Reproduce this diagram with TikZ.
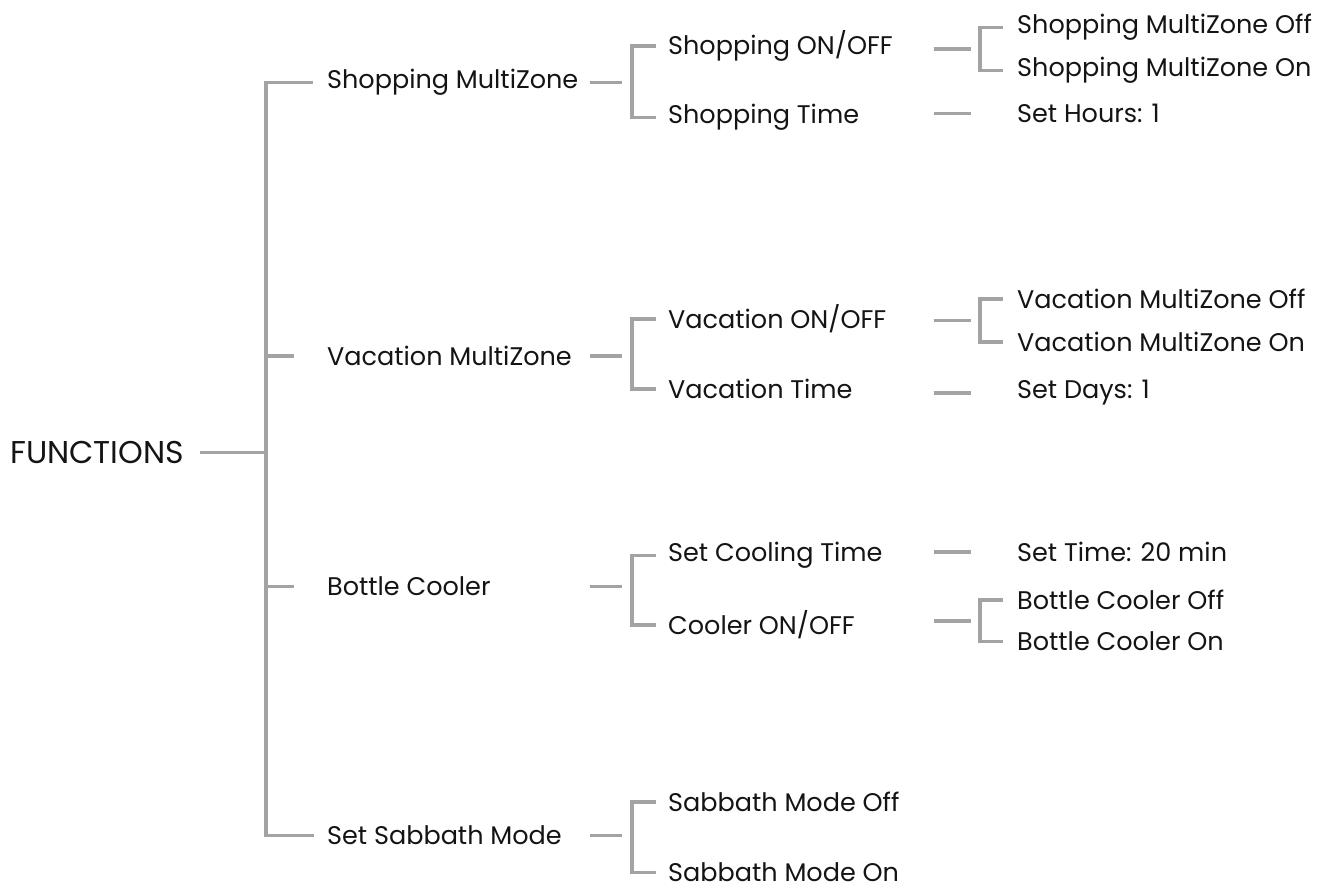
\documentclass[tikz,border=0pt]{standalone}
\usepackage{fontspec}
\setmainfont{Poppins}
\usetikzlibrary{positioning,calc}
\definecolor{LinkGray}{RGB}{163,163,163}
\definecolor{TextBlack}{RGB}{20,20,20}
\tikzset{
	item/.style={anchor=mid west,inner sep=0pt,text=TextBlack,font=\fontsize{25.5}{30}\selectfont},
	root/.style={item,font=\fontsize{31.5}{36}\selectfont},
	link/.style={draw=LinkGray,line width=3.5pt},
}

\begin{document}
\begin{tikzpicture}[x=1pt,y=-1pt]
	\useasboundingbox (0,-3) rectangle (1329,887);
	\coordinate (trunk) at (266,453);
	% first two levels
	\node[root] (fn) at (10,458) {FUNCTIONS};
	\node[item] (shop) at (327,83) {Shopping MultiZone};
	\node[item] (vac) at (327,360) {Vacation MultiZone};
	\node[item] (bot) at (327,590) {Bottle Cooler};
	\node[item] (sabb) at (327,839) {Set Sabbath Mode};
	\node[item] (shonoff) at (668,49) {Shopping ON/OFF};
	\node[item] (shtime) at (668,118) {Shopping Time};
	\node[item] (vaonoff) at (668,323) {Vacation ON/OFF};
	\node[item] (vatime) at (668,393) {Vacation Time};
	\node[item] (bcset) at (668,556) {Set Cooling Time};
	\node[item] (bconoff) at (668,629) {Cooler ON/OFF};
	\node[item] (sboff) at (668,806) {Sabbath Mode Off};
	\node[item] (sbon) at (668,876) {Sabbath Mode On};
	% last level
	\node[item] (shoff) at (1017,28) {Shopping MultiZone Off};
	\node[item] (shon) at (1017,71) {Shopping MultiZone On};
	\node[item] (shhrs) at (1017,117) {Set Hours: 1};
	\node[item] (vaoff) at (1017,303) {Vacation MultiZone Off};
	\node[item] (vaon) at (1017,346) {Vacation MultiZone On};
	\node[item] (vadays) at (1017,393) {Set Days: 1};
	\node[item] (bctime) at (1017,556) {Set Time: 20 min};
	\node[item] (bcoff) at (1017,604) {Bottle Cooler Off};
	\node[item] (bcon) at (1017,645) {Bottle Cooler On};

	% trunk
	\draw[link] ([xshift=16pt]fn.east) -- (fn.east -| trunk);
	\draw[link] ([xshift=-14pt]shop.west) -| (trunk) |- ([xshift=-13pt]sabb.west);
	\draw[link] (trunk |- vac.west) -- ([xshift=-33pt]vac.west);
	\draw[link] (trunk |- bot.west) -- ([xshift=-33pt]bot.west);

	% brackets of the second level
	\foreach \p/\a/\b in {shop/shonoff/shtime,vac/vaonoff/vatime,bot/bcset/bconoff,sabb/sboff/sbon}{
		\draw[link] ([xshift=263pt]\p.west) -- ([xshift=295pt]\p.west);
		\draw[link] ([xshift=-12pt]\a.west) -| ([xshift=-36pt]\b.west) -- ([xshift=-12pt]\b.west);
	}

	% brackets and lines of the last level
	\foreach \a/\b in {shoff/shon,vaoff/vaon,bcoff/bcon}{
		\draw[link] ($(\a.west)!.5!(\b.west)+(-83,0)$) -- ($(\a.west)!.5!(\b.west)+(-46,0)$);
		\draw[link] ([xshift=-14pt]\a.west) -| ([xshift=-37pt]\b.west) -- ([xshift=-14pt]\b.west);
	}
	\foreach \c in {shhrs,vadays,bctime}
		\draw[link] ([xshift=-83pt]\c.west) -- ([xshift=-46pt]\c.west);
\end{tikzpicture}
\end{document}
